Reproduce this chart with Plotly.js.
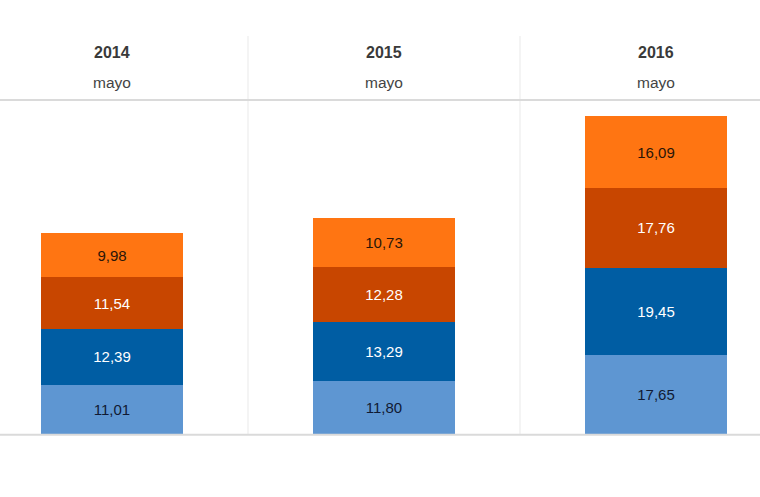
<!DOCTYPE html>
<html>
<head>
<meta charset="utf-8">
<script src="https://cdn.plot.ly/plotly-3.0.1.min.js"></script>
<style>html,body{margin:0;padding:0;background:#fff;}#chart{width:760px;height:497px;}</style>
</head>
<body>
<div id="chart"></div>
<script>
var categories = ['2014', '2015', '2016'];
var months = ['mayo', 'mayo', 'mayo'];
var serie1 = [11.01, 11.80, 17.65];
var serie2 = [12.39, 13.29, 19.45];
var serie3 = [11.54, 12.28, 17.76];
var serie4 = [9.98, 10.73, 16.09];

var colors = ['#5E96D2', '#005DA3', '#C84600', '#FF7512'];
var labelColors = ['#111a33', '#ffffff', '#ffffff', '#2a1508'];
var series = [serie1, serie2, serie3, serie4];

function fmt(v) { return v.toFixed(2).replace('.', ','); }

var xs = categories.map(function (c, i) { return i; });
var traces = series.map(function (s, k) {
  return {
    type: 'bar',
    x: xs,
    y: s,
    width: 0.522,
    marker: { color: colors[k], line: { width: 0 } },
    text: s.map(fmt),
    texttemplate: '%{text}',
    textposition: 'inside',
    insidetextanchor: 'middle',
    textangle: 0,
    constraintext: 'none',
    textfont: { family: 'Liberation Sans, Arial, sans-serif', size: 15, color: labelColors[k] },
    hoverinfo: 'skip',
    showlegend: false
  };
});

var H = 497, baseline = 434, pxPerUnit = 4.482;
var yMin = -(H - baseline) / pxPerUnit;
var yMax = baseline / pxPerUnit;
function py(p) { return 1 - p / H; }

var shapes = [
  { type: 'line', xref: 'paper', yref: 'paper', x0: 0, x1: 1, y0: py(100), y1: py(100), line: { color: '#dadada', width: 2 } },
  { type: 'line', xref: 'paper', yref: 'y', x0: 0, x1: 1, y0: -0.15, y1: -0.15, line: { color: '#dadada', width: 2 } }
];
for (var i = 0; i < categories.length - 1; i++) {
  shapes.push({ type: 'line', xref: 'x', yref: 'paper', x0: i + 0.5, x1: i + 0.5, y0: py(baseline), y1: py(36), line: { color: '#f0f0f0', width: 1.5 }, layer: 'below' });
}

var annotations = [];
categories.forEach(function (c, i) {
  annotations.push({ x: i, y: py(52), yanchor: 'middle', xref: 'x', yref: 'paper', text: '<b>' + c + '</b>', showarrow: false, font: { family: 'Liberation Sans, Arial, sans-serif', size: 16, color: '#3a3a3a' } });
  annotations.push({ x: i, y: py(83), yanchor: 'middle', xref: 'x', yref: 'paper', text: months[i], showarrow: false, font: { family: 'Liberation Sans, Arial, sans-serif', size: 15.5, color: '#444444' } });
});

var layout = {
  width: 760, height: 497,
  margin: { l: 0, r: 0, t: 0, b: 0, pad: 0 },
  paper_bgcolor: '#ffffff', plot_bgcolor: '#ffffff',
  barmode: 'stack',
  xaxis: { range: [-112 / 272, -112 / 272 + 760 / 272], showgrid: false, zeroline: false, showticklabels: false, showline: false, fixedrange: true },
  yaxis: { range: [yMin, yMax], showgrid: false, zeroline: false, showticklabels: false, showline: false, fixedrange: true },
  shapes: shapes,
  annotations: annotations,
  font: { family: 'Liberation Sans, Arial, sans-serif' }
};

Plotly.newPlot('chart', traces, layout, { displayModeBar: false, staticPlot: true });
</script>
</body>
</html>
